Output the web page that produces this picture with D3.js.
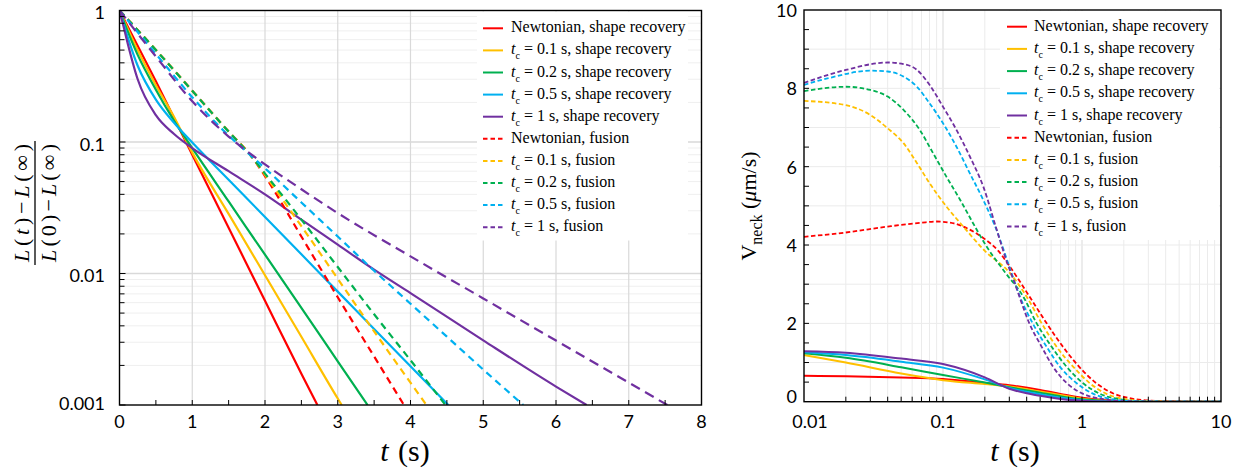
<!DOCTYPE html>
<html>
<head>
<meta charset="utf-8">
<script src="https://cdn.jsdelivr.net/npm/d3@7"></script>
<style>
  body { margin: 0; background: #fff; }
  svg { display: block; }
</style>
</head>
<body>
<svg id="chart" width="1248" height="472"></svg>
<script>
// ---------- shared legend / colour data ----------
const seriesNames = ["Newtonian", "0.1", "0.2", "0.5", "1"];
const seriesColors = ["#ff0000", "#ffc000", "#00b050", "#00b0f0", "#7030a0"];
const processNames = ["shape recovery", "fusion"];

// ---------- left panel: normalised length vs t (log y) ----------
const leftTimeTicks = [0, 1, 2, 3, 4, 5, 6, 7, 8];
const leftValueTicks = [0.001, 0.01, 0.1, 1];
const leftValueLabels = ["0.001", "0.01", "0.1", "1"];

// shape recovery
const recNewtT = [0, 0.5, 1, 1.5, 2, 2.5, 2.72];
const recNewtV = [1, 0.29, 0.08, 0.0223, 0.0062, 0.00173, 0.001];
const recTc01T = [0, 0.25, 0.5, 0.75, 1, 1.5, 2, 2.5, 3, 3.054];
const recTc01V = [1, 0.5, 0.27, 0.155, 0.083, 0.0284, 0.0097, 0.0033, 0.00112, 0.001];
const recTc02T = [0, 0.25, 0.5, 0.75, 1, 1.5, 2, 2.5, 3, 3.41];
const recTc02V = [1, 0.46, 0.25, 0.145, 0.0897, 0.0353, 0.0139, 0.00547, 0.00215, 0.001];
const recTc05T = [0, 0.25, 0.5, 0.75, 1, 1.5, 2, 2.5, 3, 3.5, 4, 4.52];
const recTc05V = [1, 0.38, 0.21, 0.14, 0.099, 0.0516, 0.0269, 0.014, 0.00728, 0.00379, 0.00197, 0.001];
const recTc1T = [0, 0.05, 0.1, 0.25, 0.5, 0.75, 1, 1.5, 2, 2.5, 3, 3.5, 4, 5, 6, 6.42];
const recTc1V = [1, 0.78, 0.6, 0.3, 0.16, 0.115, 0.09, 0.06, 0.04, 0.0257, 0.0166, 0.0107, 0.0071, 0.0031, 0.00138, 0.001];

// fusion
const fusNewtT = [0, 0.5, 1, 1.5, 1.8, 2, 2.5, 3, 3.5, 3.91];
const fusNewtV = [1, 0.501, 0.245, 0.12, 0.0794, 0.055, 0.0191, 0.0066, 0.00234, 0.001];
const fusTc01T = [0, 0.5, 1, 1.5, 1.8, 2, 2.5, 3, 3.5, 4, 4.22];
const fusTc01V = [1, 0.501, 0.245, 0.12, 0.0794, 0.0562, 0.0229, 0.00912, 0.00363, 0.00148, 0.001];
const fusTc02T = [0, 0.5, 1, 1.5, 1.8, 2, 2.5, 3, 3.5, 4, 4.48];
const fusTc02V = [1, 0.501, 0.245, 0.12, 0.0794, 0.0575, 0.0257, 0.0112, 0.0049, 0.00219, 0.001];
const fusTc05T = [0, 0.5, 1, 1.5, 1.8, 2, 2.5, 3, 3.5, 4, 4.5, 5, 5.55];
const fusTc05V = [1, 0.468, 0.219, 0.112, 0.0794, 0.0631, 0.0347, 0.0191, 0.0105, 0.00589, 0.00331, 0.00186, 0.001];
const fusTc1T = [0, 0.5, 1, 1.5, 2, 2.5, 3, 4, 5, 6, 7, 7.53];
const fusTc1V = [1, 0.447, 0.204, 0.11, 0.0676, 0.0437, 0.0288, 0.0135, 0.00646, 0.00309, 0.00148, 0.001];

// ---------- right panel: neck speed vs t (log x) ----------
const rightTimeTicks = [0.01, 0.1, 1, 10];
const rightTimeLabels = ["0.01", "0.1", "1", "10"];
const rightSpeedTicks = [0, 2, 4, 6, 8, 10];

const neckRecT = [0.01, 0.02, 0.05, 0.1, 0.2, 0.3, 0.5, 0.7, 1, 1.5, 2, 3, 5, 10];
const neckRecNewt = [0.66, 0.65, 0.62, 0.58, 0.48, 0.42, 0.30, 0.20, 0.10, 0.04, 0.015, 0.004, 0.001, 0];
const neckRecTc01 = [1.19, 1.0, 0.72, 0.55, 0.45, 0.39, 0.26, 0.17, 0.075, 0.025, 0.008, 0.001, 0, 0];
const neckRecTc02 = [1.235, 1.12, 0.88, 0.68, 0.49, 0.37, 0.23, 0.14, 0.06, 0.018, 0.005, 0.001, 0, 0];
const neckRecTc05 = [1.26, 1.19, 1.02, 0.87, 0.57, 0.35, 0.19, 0.10, 0.04, 0.01, 0.003, 0, 0, 0];
const neckRecTc1 = [1.29, 1.25, 1.10, 0.96, 0.62, 0.33, 0.15, 0.07, 0.025, 0.005, 0.001, 0, 0, 0];

const neckFusNewtT = [0.01, 0.02, 0.04, 0.07, 0.09, 0.12, 0.15, 0.2, 0.25, 0.3, 0.42, 0.557, 0.73, 0.955, 1.27, 1.68, 2.2, 3, 5, 10];
const neckFusNewtV = [4.21, 4.32, 4.47, 4.57, 4.6, 4.55, 4.42, 4.15, 3.85, 3.47, 2.68, 2.0, 1.4, 0.89, 0.47, 0.21, 0.09, 0.03, 0.005, 0];
const neckFusTc01T = [0.01, 0.02, 0.03, 0.04, 0.052, 0.065, 0.08, 0.106, 0.14, 0.2, 0.3, 0.4, 0.513, 0.657, 0.866, 1.14, 1.5, 2, 3, 5, 10];
const neckFusTc01V = [7.68, 7.57, 7.32, 6.98, 6.6, 6.09, 5.58, 4.98, 4.47, 3.85, 3.3, 2.68, 2.0, 1.4, 0.89, 0.47, 0.2, 0.07, 0.015, 0.002, 0];
const neckFusTc02T = [0.01, 0.02, 0.03, 0.04, 0.052, 0.068, 0.085, 0.106, 0.133, 0.165, 0.206, 0.28, 0.378, 0.472, 0.605, 0.776, 1.02, 1.35, 1.8, 2.7, 5, 10];
const neckFusTc02V = [7.93, 8.04, 7.96, 7.79, 7.45, 6.94, 6.34, 5.74, 5.15, 4.55, 3.96, 3.3, 2.68, 2.0, 1.4, 0.89, 0.47, 0.2, 0.07, 0.015, 0.001, 0];
const neckFusTc05T = [0.01, 0.015, 0.03, 0.04, 0.052, 0.065, 0.08, 0.1, 0.125, 0.156, 0.195, 0.243, 0.3, 0.358, 0.442, 0.557, 0.695, 0.916, 1.21, 1.6, 2.4, 5, 10];
const neckFusTc05V = [8.09, 8.26, 8.45, 8.43, 8.3, 8.04, 7.62, 7.11, 6.51, 5.83, 5.15, 4.38, 3.45, 2.68, 2.0, 1.4, 0.89, 0.47, 0.2, 0.07, 0.015, 0.001, 0];
const neckFusTc1T = [0.01, 0.02, 0.04, 0.052, 0.065, 0.08, 0.1, 0.125, 0.156, 0.195, 0.243, 0.286, 0.33, 0.418, 0.513, 0.62, 0.78, 1.02, 1.4, 2, 5, 10];
const neckFusTc1V = [8.14, 8.47, 8.66, 8.62, 8.47, 8.09, 7.53, 6.94, 6.26, 5.49, 4.4, 3.6, 3.0, 2.0, 1.4, 0.89, 0.47, 0.2, 0.07, 0.015, 0.001, 0];

// ---------- assemble series ----------
const zip = (a, b) => a.map((t, i) => [t, b[i]]);
const leftSeries = [
  { c: 0, dash: false, pts: zip(recNewtT, recNewtV) },
  { c: 1, dash: false, pts: zip(recTc01T, recTc01V) },
  { c: 2, dash: false, pts: zip(recTc02T, recTc02V) },
  { c: 3, dash: false, pts: zip(recTc05T, recTc05V) },
  { c: 4, dash: false, pts: zip(recTc1T, recTc1V) },
  { c: 0, dash: true, pts: zip(fusNewtT, fusNewtV) },
  { c: 1, dash: true, pts: zip(fusTc01T, fusTc01V) },
  { c: 2, dash: true, pts: zip(fusTc02T, fusTc02V) },
  { c: 3, dash: true, pts: zip(fusTc05T, fusTc05V) },
  { c: 4, dash: true, pts: zip(fusTc1T, fusTc1V) }
];
const rightSeries = [
  { c: 0, dash: false, pts: zip(neckRecT, neckRecNewt) },
  { c: 1, dash: false, pts: zip(neckRecT, neckRecTc01) },
  { c: 2, dash: false, pts: zip(neckRecT, neckRecTc02) },
  { c: 3, dash: false, pts: zip(neckRecT, neckRecTc05) },
  { c: 4, dash: false, pts: zip(neckRecT, neckRecTc1) },
  { c: 0, dash: true, pts: zip(neckFusNewtT, neckFusNewtV) },
  { c: 1, dash: true, pts: zip(neckFusTc01T, neckFusTc01V) },
  { c: 2, dash: true, pts: zip(neckFusTc02T, neckFusTc02V) },
  { c: 3, dash: true, pts: zip(neckFusTc05T, neckFusTc05V) },
  { c: 4, dash: true, pts: zip(neckFusTc1T, neckFusTc1V) }
];

const svg = d3.select("#chart");
const tickFont = "Lato, 'Open Sans', sans-serif";
const serif = "'Liberation Serif', 'Times New Roman', serif";
const defs = svg.append("defs");

// ---------- panel geometry & scales ----------
const PL = { left: 119.5, right: 701.5, top: 10.5, bottom: 405 };
const PR = { left: 804, right: 1221, top: 10, bottom: 401.7 };

const xL = d3.scaleLinear().domain([0, 8]).range([PL.left, PL.right]);
const yL = d3.scaleLog().domain([0.001, 1]).range([PL.bottom, PL.top]);
const xR = d3.scaleLog().domain([0.01, 10]).range([PR.left, PR.right]);
const yR = d3.scaleLinear().domain([0, 10]).range([PR.bottom, PR.top]);

function clip(id, P) {
  defs.append("clipPath").attr("id", id).append("rect")
    .attr("x", P.left).attr("y", P.top - 1)
    .attr("width", P.right - P.left).attr("height", P.bottom - P.top + 1);
}
clip("clipL", PL);
clip("clipR", PR);

// ---------- left panel gridlines ----------
const gL = svg.append("g");
const decadesL = [0.001, 0.01, 0.1];
decadesL.forEach(d => {
  d3.range(2, 10).forEach(k => {
    gL.append("line").attr("x1", PL.left).attr("x2", PL.right)
      .attr("y1", yL(k * d)).attr("y2", yL(k * d))
      .attr("stroke", "#efefef").attr("stroke-width", 1);
  });
});
[0.01, 0.1].forEach(d => {
  gL.append("line").attr("x1", PL.left).attr("x2", PL.right)
    .attr("y1", yL(d)).attr("y2", yL(d))
    .attr("stroke", "#d9d9d9").attr("stroke-width", 1.3);
});
leftTimeTicks.slice(1, -1).forEach(t => {
  gL.append("line").attr("x1", xL(t)).attr("x2", xL(t))
    .attr("y1", PL.top).attr("y2", PL.bottom)
    .attr("stroke", "#d9d9d9").attr("stroke-width", 1.2);
});

// ---------- right panel gridlines ----------
const gR = svg.append("g");
[0.01, 0.1, 1].forEach(d => {
  d3.range(1, 10).forEach(k => {
    if (d === 0.01 && k === 1) return;
    gR.append("line").attr("x1", xR(k * d)).attr("x2", xR(k * d))
      .attr("y1", PR.top).attr("y2", PR.bottom)
      .attr("stroke", k === 1 ? "#d9d9d9" : "#ebebeb").attr("stroke-width", 1);
  });
});
d3.range(1, 10).forEach(v => {
  gR.append("line").attr("x1", PR.left).attr("x2", PR.right)
    .attr("y1", yR(v)).attr("y2", yR(v))
    .attr("stroke", "#ebebeb").attr("stroke-width", 1);
});

// ---------- legend boxes (white, drawn over gridlines) ----------
svg.append("rect").attr("x", 477).attr("y", 11.5).attr("width", 211).attr("height", 229).attr("fill", "#fff");
svg.append("rect").attr("x", 1000).attr("y", 11).attr("width", 219).attr("height", 229).attr("fill", "#fff");

// ---------- curves ----------
function drawSeries(series, x, y, clipId, widths, dashes) {
  const line = d3.line().x(d => x(d[0])).y(d => y(d[1])).curve(d3.curveMonotoneX);
  const g = svg.append("g").attr("clip-path", `url(#${clipId})`);
  series.forEach(s => {
    g.append("path").attr("d", line(s.pts))
      .attr("fill", "none")
      .attr("stroke", seriesColors[s.c])
      .attr("stroke-width", s.dash ? widths[1] : widths[0])
      .attr("stroke-dasharray", s.dash ? (s.c === 4 ? dashes[1] : dashes[0]) : null)
      .attr("stroke-linejoin", "round");
  });
}
drawSeries(leftSeries, xL, yL, "clipL", [2.2, 2.2], ["7,5", "10,6"]);
drawSeries(rightSeries, xR, yR, "clipR", [2, 1.8], ["4.5,2.5", "4.5,2.5"]);

// ---------- axes frames & ticks ----------
function frame(P) {
  svg.append("rect").attr("x", P.left).attr("y", P.top)
    .attr("width", P.right - P.left).attr("height", P.bottom - P.top)
    .attr("fill", "none").attr("stroke", "#000").attr("stroke-width", 1.4);
}
frame(PL);
frame(PR);

const tk = svg.append("g").attr("stroke", "#000").attr("stroke-width", 1);
// left y ticks (inside)
decadesL.forEach(d => {
  d3.range(1, 10).forEach(k => {
    const yy = yL(k * d);
    tk.append("line").attr("x1", PL.left).attr("x2", PL.left + (k === 1 ? 6 : 5)).attr("y1", yy).attr("y2", yy);
  });
});
// left x ticks every 0.5 (inside)
d3.range(0.5, 8, 0.5).forEach(t => {
  tk.append("line").attr("x1", xL(t)).attr("x2", xL(t)).attr("y1", PL.bottom).attr("y2", PL.bottom - 5);
});
// right y ticks every 0.5 (inside)
d3.range(0.5, 10, 0.5).forEach(v => {
  tk.append("line").attr("x1", PR.left).attr("x2", PR.left + 5).attr("y1", yR(v)).attr("y2", yR(v));
});
// right x ticks (inside)
[0.01, 0.1, 1].forEach(d => {
  d3.range(1, 10).forEach(k => {
    if (d === 0.01 && k === 1) return;
    tk.append("line").attr("x1", xR(k * d)).attr("x2", xR(k * d)).attr("y1", PR.bottom).attr("y2", PR.bottom - 5);
  });
});

// ---------- tick labels ----------
const lab = svg.append("g").attr("font-family", tickFont).attr("font-size", 18).attr("fill", "#000");
leftValueTicks.forEach((v, i) => {
  // the bottom label is nudged up so it stays clear of the "0" below it
  const yy = i === 0 ? yL(v) + 5 : yL(v) + 8.5;
  lab.append("text").attr("x", 105).attr("y", yy).attr("text-anchor", "end").text(leftValueLabels[i]);
});
leftTimeTicks.forEach(t => {
  lab.append("text").attr("x", xL(t)).attr("y", 428).attr("text-anchor", "middle").text(t);
});
rightSpeedTicks.forEach(v => {
  const yy = v === 0 ? yR(v) + 1 : yR(v) + 7;
  lab.append("text").attr("x", 797).attr("y", yy).attr("text-anchor", "end").text(v);
});
rightTimeTicks.forEach((t, i) => {
  const xx = i === 0 ? xR(t) + 6 : xR(t);
  lab.append("text").attr("x", xx).attr("y", 428).attr("text-anchor", "middle").text(rightTimeLabels[i]);
});

// ---------- axis titles ----------
function timeTitle(cx) {
  const t = svg.append("text").attr("x", cx).attr("y", 461).attr("text-anchor", "middle")
    .attr("font-family", serif).attr("font-size", 30);
  t.append("tspan").attr("font-style", "italic").text("t");
  t.append("tspan").attr("dx", 2).text(" (s)");
}
timeTitle(405);
timeTitle(1015);

// left y title: fraction
const frac = svg.append("g").attr("transform", "translate(35,203) rotate(-90)")
  .attr("font-family", serif).attr("font-size", 22);
function fracText(yy, arg) {
  const t = frac.append("text").attr("x", 0).attr("y", yy).attr("text-anchor", "middle")
    .attr("textLength", 118).attr("lengthAdjust", "spacing");
  t.append("tspan").attr("font-style", "italic").text("L");
  t.append("tspan").text("(");
  t.append("tspan").attr("font-style", arg === "t" ? "italic" : "normal").text(arg);
  t.append("tspan").text(")\u2212");
  t.append("tspan").attr("font-style", "italic").text("L");
  t.append("tspan").text("(\u221E)");
}
fracText(-6, "t");
fracText(21, "0");
frac.append("line").attr("x1", -62).attr("x2", 62).attr("y1", 0).attr("y2", 0)
  .attr("stroke", "#000").attr("stroke-width", 1.3);

// right y title: V_neck (μm/s)
const vt = svg.append("text").attr("transform", "translate(756,206) rotate(-90)")
  .attr("text-anchor", "middle").attr("font-family", serif).attr("font-size", 22);
vt.append("tspan").text("V");
vt.append("tspan").attr("font-size", 16).attr("dy", 6).text("neck");
vt.append("tspan").attr("dy", -6).text(" (");
vt.append("tspan").attr("font-style", "italic").text("\u03BC");
vt.append("tspan").text("m/s)");

// ---------- legends ----------
function legend(x0, lineLen, textX, y0, step) {
  const g = svg.append("g").attr("font-family", serif).attr("font-size", 16);
  processNames.forEach((proc, p) => {
    seriesNames.forEach((name, i) => {
      const row = p * seriesNames.length + i;
      const yy = y0 + row * step;
      g.append("line").attr("x1", x0).attr("x2", x0 + lineLen).attr("y1", yy).attr("y2", yy)
        .attr("stroke", seriesColors[i]).attr("stroke-width", 2)
        .attr("stroke-dasharray", p === 1 ? "4.5,3" : null);
      const t = g.append("text").attr("x", textX).attr("y", yy + 4);
      if (i === 0) {
        t.text(`${name}, ${proc}`);
      } else {
        t.append("tspan").attr("font-style", "italic").text("t");
        t.append("tspan").attr("font-size", 10).attr("dy", 5).text("c");
        t.append("tspan").attr("dy", -5).attr("dx", 4).text(`= ${name} s, ${proc}`);
      }
    });
  });
}
legend(483, 20, 511, 28.3, 22.1);
legend(1007, 20, 1034, 26.7, 22.2);
</script>
</body>
</html>
